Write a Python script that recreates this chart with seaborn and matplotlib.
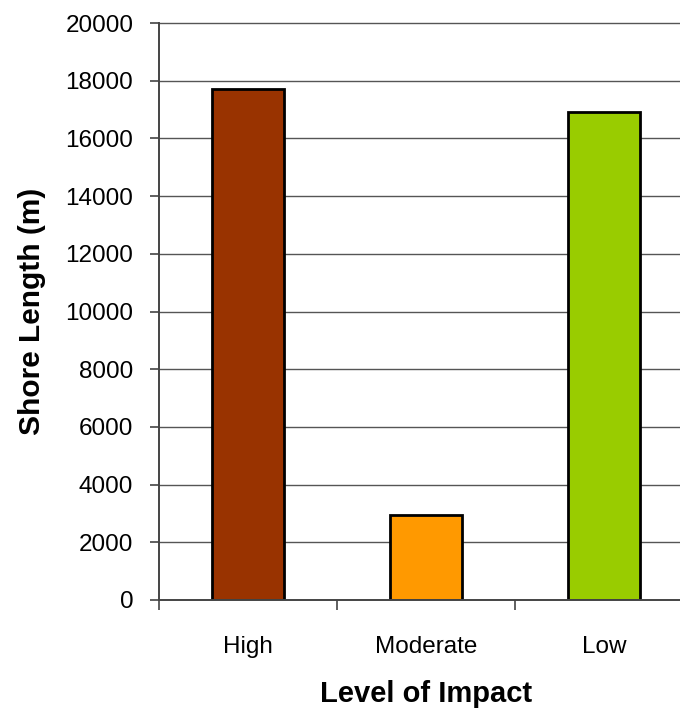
import matplotlib
matplotlib.use("Agg")
import matplotlib.pyplot as plt
import seaborn as sns
import pandas as pd

# Shore length by level of impact
categories = ["High", "Moderate", "Low"]
shore_length = [17700, 2950, 16900]
bar_colors = ["#993300", "#FF9900", "#99CC00"]
y_ticks = [0, 2000, 4000, 6000, 8000, 10000, 12000, 14000, 16000, 18000, 20000]

sns.set_style("white")
plt.rcParams["font.family"] = ["Liberation Sans", "DejaVu Sans"]
plt.rcParams["text.color"] = "black"
plt.rcParams["axes.labelcolor"] = "black"
plt.rcParams["xtick.color"] = "black"
plt.rcParams["ytick.color"] = "black"

df = pd.DataFrame({"impact": categories, "length": shore_length})

fig = plt.figure(figsize=(6.8, 7.15), dpi=100)
ax = fig.add_axes([159 / 680, 115 / 715, 534 / 680, 577 / 715])

sns.barplot(data=df, x="impact", y="length", hue="impact",
            palette=dict(zip(categories, bar_colors)), order=categories,
            width=0.4, saturation=1, edgecolor="black", linewidth=2.0,
            legend=False, ax=ax, zorder=3)

ax.set_xlim(-0.5, 2.5)
ax.set_ylim(0, 20000)
ax.set_yticks(y_ticks)
ax.set_yticklabels([str(v) for v in y_ticks])

# horizontal gridlines
for v in y_ticks[1:]:
    ax.axhline(v, color="#555555", linewidth=1.0, zorder=1,
               clip_on=False)

for s in ["top", "right"]:
    ax.spines[s].set_visible(False)
for s in ["left", "bottom"]:
    ax.spines[s].set_color("#444444")
    ax.spines[s].set_linewidth(1.4)
    ax.spines[s].set_zorder(4)

ax.tick_params(axis="y", direction="out", length=6.5, width=1.2,
               color="#444444", pad=12, labelsize=17.5, left=True,
               labelcolor="black")
ax.tick_params(axis="x", which="major", length=0, pad=26, labelsize=17.5,
               labelcolor="black")
ax.set_xticks([-0.5, 0.5, 1.5], minor=True)
ax.tick_params(axis="x", which="minor", direction="out", length=7,
               width=1.2, color="#444444", bottom=True)

ax.set_xlabel("Level of Impact", fontsize=21, fontweight="bold", labelpad=16)
ax.set_ylabel("Shore Length (m)", fontsize=21.5, fontweight="bold", labelpad=14)

fig.savefig("out.png", dpi=100)
